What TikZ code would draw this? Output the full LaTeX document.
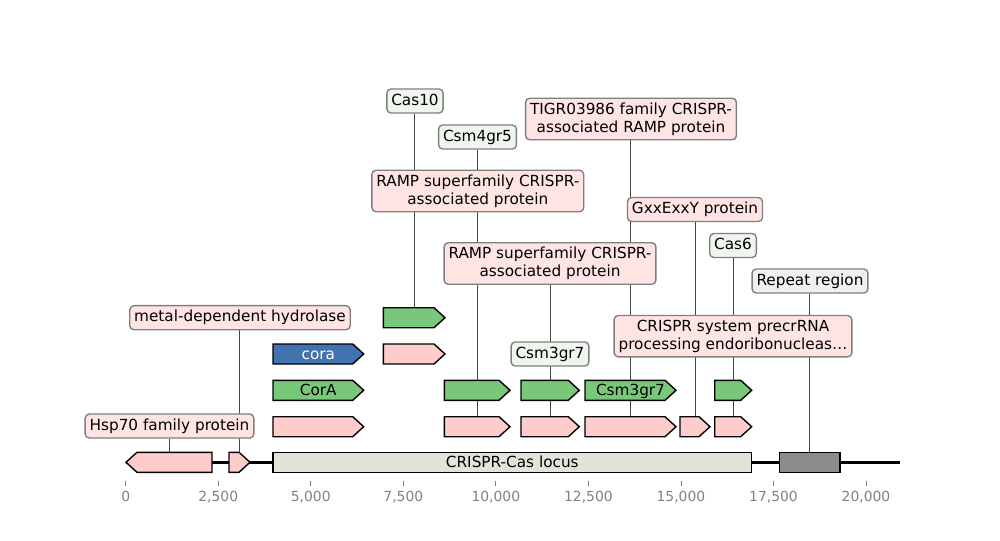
\documentclass[tikz,border=0pt]{standalone}
\usepackage{fontspec}
\setmainfont{DejaVu Sans}
\usetikzlibrary{backgrounds}
\definecolor{featpink}{HTML}{FFCCCC}
\definecolor{featgreen}{HTML}{79C77A}
\definecolor{featblue}{HTML}{4372B0}
\definecolor{locusgray}{HTML}{E3E3DC}
\definecolor{repeatgray}{HTML}{8C8C8C}
\definecolor{lblpink}{HTML}{FFE4E4}
\definecolor{lblgreen}{HTML}{EEF6EE}
\definecolor{lblgray}{HTML}{F0F0F0}
\definecolor{lblborder}{HTML}{808080}
\definecolor{leadergray}{HTML}{444444}
\definecolor{tickgray}{HTML}{808080}
\tikzset{
  % gene arrows
  gene/.style={draw=black, line width=1pt},
  gene-pink/.style={gene, fill=featpink},
  gene-green/.style={gene, fill=featgreen},
  gene-blue/.style={gene, fill=featblue},
  % label boxes
  lbl-box/.style={rectangle, rounded corners=3pt, draw=lblborder, line width=1pt, inner xsep=3.2pt, inner ysep=3.15pt, font=\fontsize{11}{13}\selectfont, align=center},
  lbl-one/.style={lbl-box, text height=8.4pt, text depth=2.6pt},
  lbl-pink/.style={fill=lblpink},
  lbl-green/.style={fill=lblgreen},
  lbl-gray/.style={fill=lblgray},
  leader/.style={draw=leadergray, line width=0.7pt},
  in-gene/.style={anchor=base, font=\fontsize{11}{13}\selectfont},
  tick-lbl/.style={anchor=base, text=tickgray, font=\fontsize{10}{12}\selectfont}
}
% name, start, end, row, style
\newcommand{\fwdgene}[5]{%
  \draw[#5] (#2,#4-10) -- (#3-11,#4-10) -- (#3,#4) -- (#3-11,#4+10) -- (#2,#4+10) -- cycle;
  \coordinate (#1) at ({(#2+#3)/2},#4-10);
}
\begin{document}
\begin{tikzpicture}[x=0.72pt, y=-0.72pt]
    \useasboundingbox (0,0) rectangle (1000,540);

    % --- Axis ---
    \foreach \i/\t in {0/0,1/{2,500},2/{5,000},3/{7,500},4/{10,000},5/{12,500},6/{15,000},7/{17,500},8/{20,000}} {
        \draw[tickgray, line width=0.6pt] ({125.7+\i*92.54},481) -- ++(0,4.5);
        \node[tick-lbl] (tick\i) at ({125.7+\i*92.54},501) {\t};
    }

    % --- Baseline ---
    \draw[black, line width=1.8pt] (125.7,462.3) -- (900,462.3);
    \draw[gene-pink] (126,462.3) -- (137,452.3) -- (212,452.3) -- (212,472.3) -- (137,472.3) -- cycle;
    \coordinate (hsp) at (169,452.3);
    \fwdgene{hyd}{229}{250}{462.3}{gene-pink}
    \draw[gene, fill=locusgray] (273,452.3) rectangle (751.7,472.3);
    \node[in-gene] (locus) at (512.3,467.3) {CRISPR-Cas locus};
    \draw[gene, fill=repeatgray] (779.3,452.3) rectangle (840,472.3);
    \coordinate (rep) at (809.7,452.3);

    % --- Row 1 ---
    \fwdgene{a1}{273}{363.7}{426.7}{gene-pink}
    \fwdgene{a2}{444.3}{510}{426.7}{gene-pink}
    \fwdgene{a3}{521}{579.3}{426.7}{gene-pink}
    \fwdgene{a4}{585}{676}{426.7}{gene-pink}
    \fwdgene{a5}{680}{710}{426.7}{gene-pink}
    \fwdgene{a6}{714.7}{751.7}{426.7}{gene-pink}

    % --- Row 2 ---
    \fwdgene{b1}{273}{363.7}{390.3}{gene-green}
    \node[in-gene] (corA) at (318.3,395.3) {CorA};
    \fwdgene{b2}{444.3}{510}{390.3}{gene-green}
    \fwdgene{b3}{521}{579.3}{390.3}{gene-green}
    \fwdgene{b4}{585}{676}{390.3}{gene-green}
    \node[in-gene] (csmIn) at (630.5,395.3) {Csm3gr7};
    \fwdgene{b5}{714.7}{751.7}{390.3}{gene-green}

    % --- Row 3 ---
    \fwdgene{c1}{273}{363.7}{354}{gene-blue}
    \node[in-gene, text=white] (cora) at (318.3,359) {cora};
    \fwdgene{c2}{383.3}{445}{354}{gene-pink}

    % --- Row 4 ---
    \fwdgene{d1}{383.3}{445}{317.7}{gene-green}

    % --- Labels ---
    \node[lbl-one, lbl-green] (lCas10) at (415,101) {Cas10};
    \node[lbl-one, lbl-green] (lCsm4) at (477.5,137) {Csm4gr5};
    \node[lbl-box, lbl-pink] (lRamp1) at (477.8,191) {RAMP superfamily CRISPR-\\associated protein};
    \node[lbl-box, lbl-pink] (lTigr) at (631,119) {TIGR03986 family CRISPR-\\associated RAMP protein};
    \node[lbl-one, lbl-pink] (lGxx) at (695,209.5) {GxxExxY protein};
    \node[lbl-one, lbl-green] (lCas6) at (733,245.5) {Cas6};
    \node[lbl-box, lbl-pink] (lRamp2) at (550,263.5) {RAMP superfamily CRISPR-\\associated protein};
    \node[lbl-one, lbl-gray] (lRep) at (810,281) {Repeat region};
    \node[lbl-box, lbl-pink] (lPre) at (733,336.2) {CRISPR system precrRNA\\processing endoribonucleas…};
    \node[lbl-one, lbl-green] (lCsm3) at (550,354) {Csm3gr7};
    \node[lbl-one, lbl-pink] (lHyd) at (240,317.7) {metal-dependent hydrolase};
    \node[lbl-one, lbl-pink] (lHsp) at (169.5,426) {Hsp70 family protein};

    % --- Leader lines ---
    \begin{scope}[on background layer]
        \draw[leader] (d1) -- (d1 |- lCas10.south);
        \draw[leader] (a2) -- (a2 |- lCsm4.south);
        \draw[leader] (b2) -- (b2 |- lRamp1.south);
        \draw[leader] (a4) -- (a4 |- lTigr.south);
        \draw[leader] (a5) -- (a5 |- lGxx.south);
        \draw[leader] (a6) -- (a6 |- lCas6.south);
        \draw[leader] (a3) -- (a3 |- lRamp2.south);
        \draw[leader] (rep) -- (rep |- lRep.south);
        \draw[leader] (b5) -- (b5 |- lPre.south);
        \draw[leader] (b3) -- (b3 |- lCsm3.south);
        \draw[leader] (hyd) -- (hyd |- lHyd.south);
        \draw[leader] (hsp) -- (hsp |- lHsp.south);
    \end{scope}
\end{tikzpicture}
\end{document}
